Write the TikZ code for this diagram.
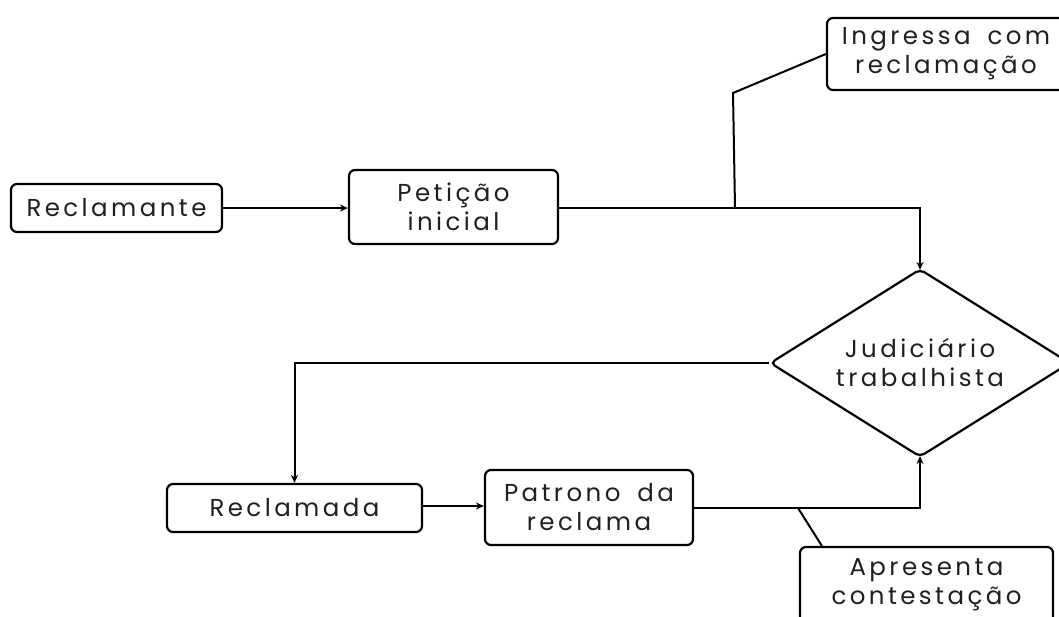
\documentclass[tikz,border=0pt]{standalone}
\usepackage{fontspec}
\setmainfont{Poppins}[LetterSpace=14,WordSpace=1.7]
\usetikzlibrary{shapes.geometric,arrows.meta}
\begin{document}
\begin{tikzpicture}[x=1pt,y=-1pt,
  box/.style={draw, line width=2.2pt, rounded corners=6pt, align=center, inner sep=0pt,
    font=\fontsize{24.5}{29}\selectfont, text=black!88},
  dia/.style={draw, diamond, aspect=2, line width=2.2pt, rounded corners=5pt, align=center, inner sep=0pt,
    minimum width=300pt, minimum height=188pt, font=\fontsize{24.5}{29}\selectfont, text=black!88},
  conn/.style={line width=2pt},
  arr/.style={line width=2pt, -{Stealth[length=8pt,width=7pt]}}]
\useasboundingbox (0,0) rectangle (1059,616);
\node[box, minimum width=211pt, minimum height=48pt] (reclamante) at (116.5,208) {Reclamante};
\node[box, minimum width=209pt, minimum height=74pt] (peticao) at (453.5,207) {Petição\\inicial};
\node[box, minimum width=240pt, minimum height=72pt] (ingressa) at (947,54) {\hspace*{-2pt}Ingressa com\\\hspace*{-2pt}reclamação};
\node[dia] (judic) at (920,363) {Judiciário\\trabalhista};
\node[box, minimum width=255pt, minimum height=48pt] (reclamada) at (294.5,508) {Reclamada};
\node[box, minimum width=208pt, minimum height=75pt] (patrono) at (589,507.5) {Patrono da\\reclama};
\node[box, minimum width=253pt, minimum height=76pt] (apresenta) at (926.5,585) {Apresenta\\contestação};
\coordinate (j1) at (735,208);
\coordinate (j2) at (733,93);
\coordinate (j3) at (798,508);
\coordinate (r2) at (400,506);
\draw[arr] (reclamante.east) -- (peticao.west |- reclamante.east);
\draw[arr] (peticao.east |- reclamante.east) -| ([yshift=-2pt]judic.north);
\draw[conn] (j1) -- (j2) -- (ingressa.west);
\draw[arr] (judic.west) -| (reclamada.north);
\draw[arr] (reclamada.east |- r2) -- (patrono.west |- r2);
\draw[arr] (patrono.east) -| ([yshift=2pt]judic.south);
\draw[conn] (j3) -- ([xshift=23pt]apresenta.north west);
\end{tikzpicture}
\end{document}
